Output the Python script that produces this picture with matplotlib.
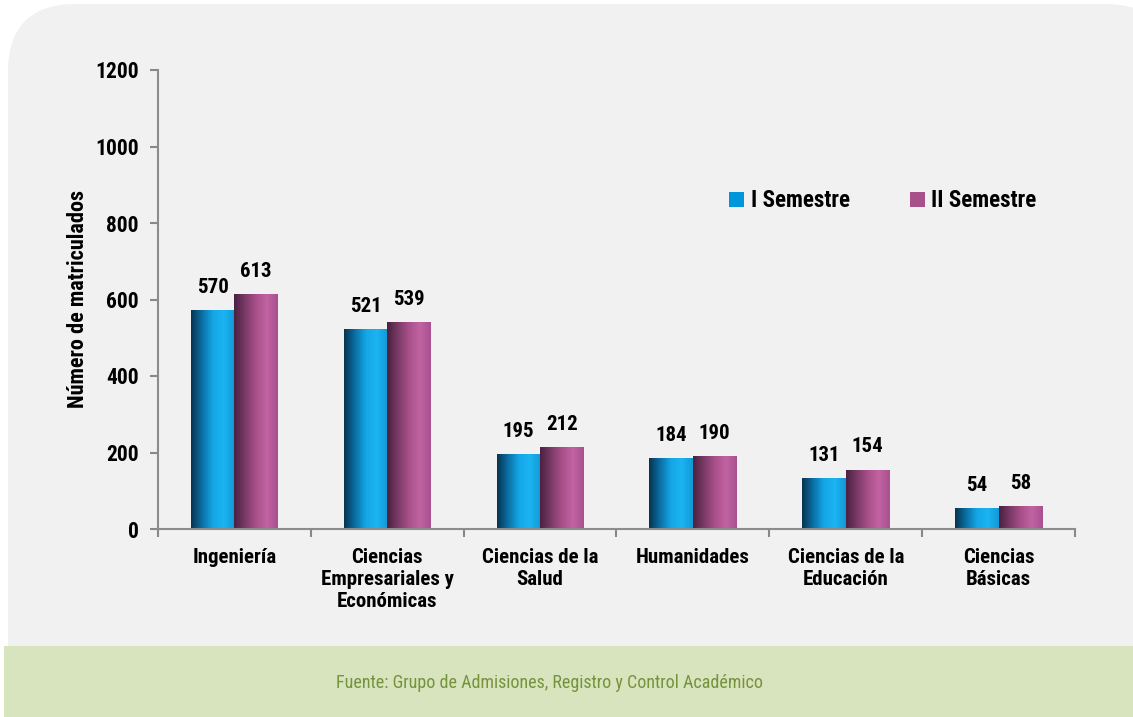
import numpy as np
import matplotlib
matplotlib.use('Agg')
import matplotlib.pyplot as plt
from matplotlib import font_manager
from matplotlib.patches import FancyBboxPatch, Rectangle
from matplotlib.colors import LinearSegmentedColormap

# prefer a condensed face, like the original Arial Narrow
installed = {f.name for f in font_manager.fontManager.ttflist}
narrow = [n for n in ['Liberation Sans Narrow', 'Arial Narrow', 'Roboto Condensed',
                      'Open Sans Condensed', 'Noto Sans Condensed'] if n in installed]
HAVE_NARROW = len(narrow) > 0
plt.rcParams['font.family'] = narrow + ['Liberation Sans', 'DejaVu Sans']
k = 1.0 if HAVE_NARROW else 0.87   # shrink wide fonts a bit

# ===============================
# Data
# ===============================
categories = ['Ingeniería', 'Ciencias\nEmpresariales y\nEconómicas', 'Ciencias de la\nSalud',
              'Humanidades', 'Ciencias de la\nEducación', 'Ciencias\nBásicas']
sem1 = [570, 521, 195, 184, 131, 54]
sem2 = [613, 539, 212, 190, 154, 58]
series_names = ['I Semestre', 'II Semestre']
yticks = [0, 200, 400, 600, 800, 1000, 1200]

# cylinder-like shading for the bars
blue_cmap = LinearSegmentedColormap.from_list(
    'b', ['#07344f', '#0b6ea3', '#14a6e6', '#1cb4f2', '#1298d6'])
purple_cmap = LinearSegmentedColormap.from_list(
    'p', ['#4a2040', '#7a3a66', '#a8508a', '#c263a2', '#a85090'])

W, H = 1133, 717
fig = plt.figure(figsize=(W / 100, H / 100), dpi=100)
fig.patch.set_facecolor('white')

# background panel with rounded corners + green source band
panel = FancyBboxPatch((8 / W, 0.0), (W - 8 + 40) / W, (H - 4) / H,
                       boxstyle='round,pad=0,rounding_size=0.06',
                       transform=fig.transFigure, facecolor='#f1f1f1',
                       edgecolor='none', zorder=-3, mutation_aspect=W / H)
fig.patches.append(panel)
band = Rectangle((4 / W, 0), 1, 71 / H, transform=fig.transFigure,
                 facecolor='#d7e4bd', edgecolor='none', zorder=-2)
fig.patches.append(band)
fig.text(549 / W, 1 - 683 / H, 'Fuente: Grupo de Admisiones, Registro y Control Académico',
         ha='center', va='center', fontsize=13 * k, color='#76923c')

ax = fig.add_axes([158 / W, 1 - 529 / H, (1075 - 158) / W, (529 - 70) / H])
ax.set_facecolor('none')

x = np.arange(len(categories))
bw = 0.285
grad = np.linspace(0, 1, 256).reshape(1, -1)

for vals, off, cmap in [(sem1, -bw / 2, blue_cmap), (sem2, bw / 2, purple_cmap)]:
    bars = ax.bar(x + off, vals, width=bw, color='none', edgecolor='none')
    for rect, v in zip(bars, vals):
        x0 = rect.get_x()
        ax.imshow(grad, cmap=cmap, aspect='auto', extent=(x0, x0 + bw, 0, v),
                  interpolation='bicubic', zorder=2)
        ax.text(x0 + bw / 2, v + 36, str(v), ha='center', va='bottom',
                fontsize=15 * k, fontweight='bold')

ax.set_xlim(-0.5, len(categories) - 0.5)
ax.set_ylim(0, 1200)

ax.set_yticks(yticks)
ax.set_yticklabels([str(t) for t in yticks], fontsize=15.5 * k, fontweight='bold')
ax.set_xticks(x)
ax.set_xticklabels(categories, fontsize=15 * k, fontweight='bold', linespacing=1.17)
ax.set_xticks(np.arange(len(categories) + 1) - 0.5, minor=True)
ax.tick_params(axis='x', which='major', length=0, pad=14)
ax.tick_params(axis='x', which='minor', length=6, color='#888888', width=1.5)
ax.tick_params(axis='y', length=6, color='#888888', width=1.5, pad=8)

for s in ['top', 'right']:
    ax.spines[s].set_visible(False)
for s in ['left', 'bottom']:
    ax.spines[s].set_color('#8c8c8c')
    ax.spines[s].set_linewidth(1.5)

ax.set_ylabel('Número de matriculados', fontsize=16 * k, fontweight='bold', labelpad=4)

# legend
handles = [Rectangle((0, 0), 1, 1, facecolor='#0096db'),
           Rectangle((0, 0), 1, 1, facecolor='#a8508a')]
ax.legend(handles, series_names, loc='center', bbox_to_anchor=(883 / W, 1 - 201 / H),
          bbox_transform=fig.transFigure, ncol=2, frameon=False,
          prop={'size': 16.5 * k, 'weight': 'bold'}, handlelength=0.65, handleheight=0.65,
          handletextpad=0.3, columnspacing=2.6)

fig.savefig('out.png', dpi=100, facecolor=fig.get_facecolor())
